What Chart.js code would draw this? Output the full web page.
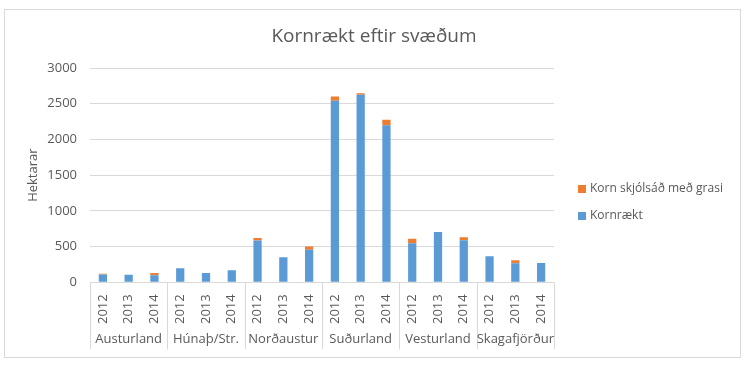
<!DOCTYPE html>
<html>
<head>
<meta charset="utf-8">
<script src="https://cdn.jsdelivr.net/npm/chart.js@4.4.1/dist/chart.umd.min.js"></script>
<style>
  body { margin: 0; background: #fff; }
  #wrap { position: relative; width: 750px; height: 365px; }
  #frame { position: absolute; left: 4px; top: 9px; width: 735px; height: 347px; border: 1px solid #d9d9d9; pointer-events: none; }
</style>
</head>
<body>
<div id="wrap">
  <canvas id="myChart" width="750" height="365"></canvas>
  <div id="frame"></div>
</div>
<script>
const chartTitle = "Kornrækt eftir svæðum";
const regions = ["Austurland", "Húnaþ/Str.", "Norðaustur", "Suðurland", "Vesturland", "Skagafjörður"];
const years = ["2012", "2013", "2014"];

// one value per region/year, in the order above
const kornraekt = [110, 105, 100, 195, 130, 170, 585, 350, 455, 2540, 2625, 2200, 545, 705, 590, 365, 265, 270];
const kornGrasi = [10, 0, 30, 0, 0, 0, 35, 0, 45, 60, 20, 75, 65, 0, 40, 0, 45, 0];

const labels = [];
regions.forEach(() => years.forEach((y) => labels.push(y)));

const textColor = "#595959";
const gridColor = "#d9d9d9";
const fontFamily = "'Open Sans', 'Noto Sans', sans-serif";

// draws the region row and separators under the year labels
const regionAxis = {
  id: "regionAxis",
  afterDraw(chart) {
    const { ctx, chartArea } = chart;
    const x = chart.scales.x;
    const step = x.getPixelForValue(1) - x.getPixelForValue(0);
    const top = chartArea.bottom;
    const bottom = top + 67;
    ctx.save();
    ctx.strokeStyle = gridColor;
    ctx.lineWidth = 1;
    for (let i = 0; i <= regions.length; i++) {
      const px = Math.round(x.getPixelForValue(i * years.length) - step / 2) + 0.5;
      ctx.beginPath();
      ctx.moveTo(px, top);
      ctx.lineTo(px, bottom);
      ctx.stroke();
    }
    ctx.fillStyle = textColor;
    ctx.font = "13px " + fontFamily;
    ctx.textAlign = "center";
    ctx.textBaseline = "middle";
    regions.forEach((r, i) => {
      ctx.fillText(r, x.getPixelForValue(i * years.length + 1), top + 57);
    });
    ctx.restore();
  },
};

// title centred on the whole picture, legend at the right
const sideParts = {
  id: "sideParts",
  afterDraw(chart) {
    const { ctx, chartArea } = chart;
    ctx.save();
    ctx.fillStyle = textColor;
    ctx.font = "19px " + fontFamily;
    ctx.textAlign = "center";
    ctx.textBaseline = "middle";
    ctx.fillText(chartTitle, chart.width / 2 - 1, 37);

    const sets = chart.data.datasets.slice().reverse();
    let y = 189;
    ctx.font = "12px " + fontFamily;
    ctx.textAlign = "left";
    sets.forEach((ds) => {
      ctx.fillStyle = ds.backgroundColor;
      ctx.fillRect(chartArea.right + 24, y - 4, 8, 8);
      ctx.fillStyle = textColor;
      ctx.fillText(ds.label, chartArea.right + 36, y);
      y += 27;
    });
    ctx.restore();
  },
};

new Chart(document.getElementById("myChart"), {
  type: "bar",
  data: {
    labels: labels,
    datasets: [
      {
        label: "Kornrækt",
        data: kornraekt,
        backgroundColor: "#5B9BD5",
        barPercentage: 0.32,
        categoryPercentage: 1,
      },
      {
        label: "Korn skjólsáð með grasi",
        data: kornGrasi,
        backgroundColor: "#ED7D31",
        barPercentage: 0.32,
        categoryPercentage: 1,
      },
    ],
  },
  options: {
    responsive: false,
    animation: false,
    layout: { padding: { left: 25, right: 196, top: 68, bottom: 5 } },
    plugins: {
      title: { display: false },
      legend: { display: false },
      tooltip: { enabled: false },
    },
    scales: {
      x: {
        stacked: true,
        grid: { display: false },
        border: { display: false },
        ticks: {
          color: textColor,
          font: { family: fontFamily, size: 13 },
          minRotation: 90,
          maxRotation: 90,
          padding: 4,
        },
        afterFit(scale) {
          scale.height += 32;
        },
      },
      y: {
        stacked: true,
        min: 0,
        max: 3000,
        grid: { color: gridColor, drawTicks: false },
        border: { display: false },
        ticks: {
          stepSize: 500,
          color: textColor,
          font: { family: fontFamily, size: 13 },
          padding: 13,
          callback: (v) => String(v),
        },
        title: {
          display: true,
          text: "Hektarar",
          color: textColor,
          font: { family: fontFamily, size: 13 },
          padding: { top: 0, bottom: 0 },
        },
        afterFit(scale) {
          scale.width = 65;
        },
      },
    },
  },
  plugins: [regionAxis, sideParts],
});
</script>
</body>
</html>
